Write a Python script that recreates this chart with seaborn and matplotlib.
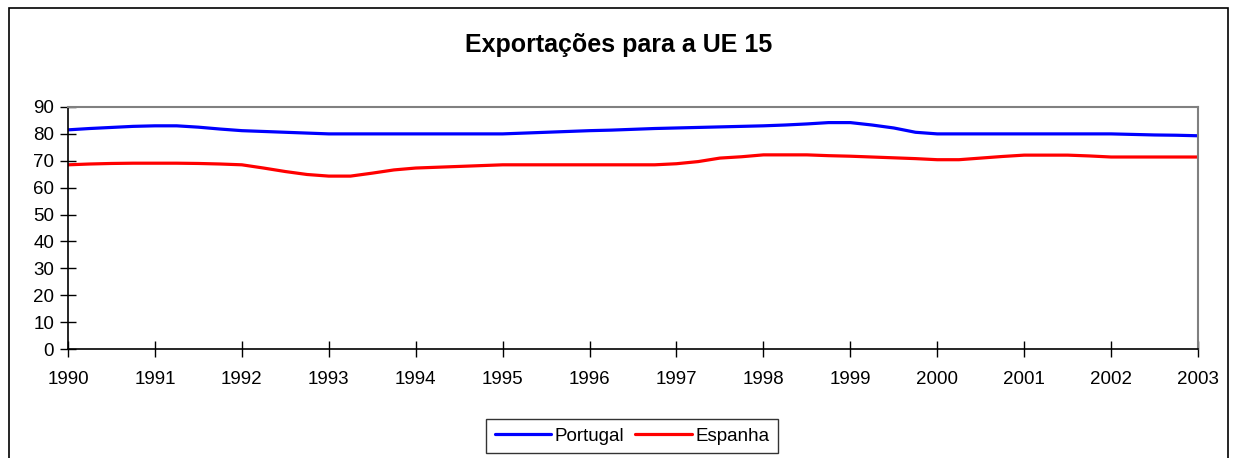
import pandas as pd
import matplotlib.pyplot as plt
import seaborn as sns
from matplotlib.patches import Rectangle
from matplotlib.lines import Line2D

# quarterly readings (decimal years)
anos = [1990 + i * 0.25 for i in range(53)]
portugal = [81.5, 82.0, 82.4, 82.8, 83.0, 83.0, 82.5, 81.8,
            81.2, 80.9, 80.6, 80.3, 80.0, 80.0, 80.0, 80.0,
            80.0, 80.0, 80.0, 80.0, 80.0, 80.3, 80.6, 80.9,
            81.2, 81.4, 81.7, 82.0, 82.2, 82.4, 82.6, 82.8,
            83.0, 83.3, 83.7, 84.2, 84.2, 83.3, 82.2, 80.6,
            80.0, 80.0, 80.0, 80.0, 80.0, 80.0, 80.0, 80.0,
            80.0, 79.8, 79.6, 79.5, 79.3]
espanha = [68.5, 68.8, 69.0, 69.1, 69.1, 69.1, 69.0, 68.8,
           68.5, 67.3, 66.0, 64.9, 64.3, 64.3, 65.4, 66.6,
           67.3, 67.6, 67.9, 68.2, 68.5, 68.5, 68.5, 68.5,
           68.5, 68.5, 68.5, 68.5, 68.9, 69.7, 71.0, 71.5,
           72.2, 72.2, 72.2, 71.9, 71.7, 71.4, 71.1, 70.8,
           70.4, 70.4, 71.0, 71.6, 72.1, 72.1, 72.1, 71.8,
           71.4, 71.4, 71.4, 71.4, 71.4]
anos_ticks = list(range(1990, 2004))

df = pd.DataFrame({"Ano": anos * 2,
                   "Valor": portugal + espanha,
                   "Pais": ["Portugal"] * len(anos) + ["Espanha"] * len(anos)})

sns.set_style("white")
plt.rcParams['font.family'] = ['Liberation Sans', 'DejaVu Sans']
plt.rcParams['text.color'] = 'black'

fig = plt.figure(figsize=(12.38, 4.58), dpi=100)
ax = fig.add_axes([68 / 1238, 1 - 349 / 458, 1130 / 1238, 242 / 458])

sns.lineplot(data=df, x="Ano", y="Valor", hue="Pais",
             palette={"Portugal": "#0000ff", "Espanha": "#ff0000"},
             linewidth=2.3, ax=ax, legend=False)

ax.set_xlim(1990, 2003)
ax.set_ylim(0, 90)
ax.set_xticks(anos_ticks)
ax.set_xticklabels([str(a) for a in anos_ticks])
ax.set_yticks(range(0, 100, 10))
ax.set_xlabel("")
ax.set_ylabel("")
ax.tick_params(axis="both", which="major", bottom=True, left=True,
               direction="inout", length=12, width=1, color="black",
               labelsize=13.5, labelcolor="black")
ax.tick_params(axis="x", pad=10)
ax.tick_params(axis="y", pad=4)
for s in ["left", "bottom"]:
    ax.spines[s].set_color("black")
    ax.spines[s].set_linewidth(1.2)
for s in ["top", "right"]:
    ax.spines[s].set_color("#808080")
    ax.spines[s].set_linewidth(1.5)

fig.text(0.5, 1 - 45 / 458, "Exportações para a UE 15", ha="center", va="center",
         fontsize=18, fontweight="bold", color="black")

handles = [Line2D([], [], color="#0000ff", lw=2.3), Line2D([], [], color="#ff0000", lw=2.3)]
leg = fig.legend(handles, ["Portugal", "Espanha"], loc="center",
                 bbox_to_anchor=(632 / 1238, 1 - 436 / 458), ncol=2, fontsize=13.5,
                 frameon=True, fancybox=False, handlelength=3.0, handletextpad=0.2,
                 columnspacing=0.6, borderpad=0.45)
leg.get_frame().set_edgecolor("black")
leg.get_frame().set_linewidth(1)
for t in leg.get_texts():
    t.set_color("black")

fig.patches.append(Rectangle((9 / 1238, -0.05), 1219 / 1238, 1.05 - 8 / 458,
                             transform=fig.transFigure, fill=False,
                             edgecolor="black", linewidth=1.2))

plt.savefig("out.png", dpi=100)
